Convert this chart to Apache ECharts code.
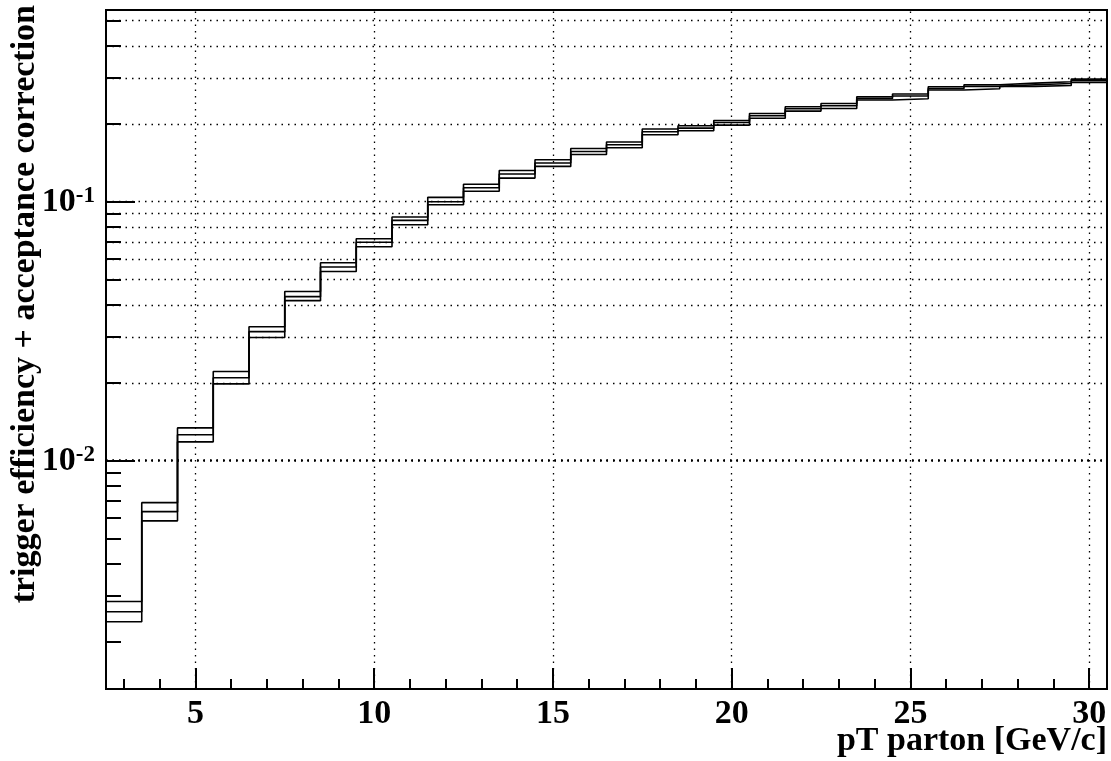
<!DOCTYPE html>
<html>
<head>
<meta charset="utf-8">
<script src="https://cdn.jsdelivr.net/npm/echarts@6/dist/echarts.min.js"></script>
<style>
html,body{margin:0;padding:0;background:#fff;}
#chart{width:1111px;height:761px;}
</style>
</head>
<body>
<div id="chart"></div>
<script>
// ---- data ----
const binCenters = [3,4,5,6,7,8,9,10,11,12,13,14,15,16,17,18,19,20,21,22,23,24,25,26,27,28,29,30];
const binHalfWidth = 0.5;
const effCentral = [0.00261,0.00636,0.01259,0.0209,0.0315,0.0430,0.0560,0.0698,0.0847,0.1000,0.1133,0.1280,0.1411,0.1564,0.1660,0.1863,0.1925,0.2023,0.2148,0.2286,0.2348,0.2506,0.2560,0.2738,0.2788,0.2830,0.2862,0.2931];
const effUpper   = [0.00286,0.00689,0.01339,0.0221,0.0329,0.0450,0.0581,0.0720,0.0873,0.1040,0.1168,0.1321,0.1453,0.1606,0.1700,0.1909,0.1966,0.2060,0.2190,0.2327,0.2396,0.2544,0.2605,0.2780,0.2830,0.2872,0.2905,0.2976];
const effLower   = [0.00239,0.00586,0.01183,0.0198,0.0299,0.0415,0.0538,0.0670,0.0815,0.0974,0.1098,0.1234,0.1369,0.1522,0.1616,0.1814,0.1879,0.1977,0.2100,0.2239,0.2292,0.2470,0.2499,0.2699,0.2731,0.2788,0.2812,0.2887];
const xRange = [2.5, 30.5];
const yRange = [0.001314, 0.55];
const xMajorTicks = [5,10,15,20,25,30];
const xMinorTicks = [3,4,5,6,7,8,9,10,11,12,13,14,15,16,17,18,19,20,21,22,23,24,25,26,27,28,29,30];
const yMajorTicks = [0.01, 0.1];
const yMinorTicks = [0.002,0.003,0.004,0.005,0.006,0.007,0.008,0.009,0.02,0.03,0.04,0.05,0.06,0.07,0.08,0.09,0.2,0.3,0.4,0.5];
const xTitle = 'pT parton [GeV/c]';
const yTitle = 'trigger efficiency + acceptance correction';

const FONT = '"Liberation Serif", "Times New Roman", serif';

function histSteps(vals){
  const pts = binCenters.map((c,i)=>[c - binHalfWidth, vals[i]]);
  const n = binCenters.length - 1;
  pts.push([binCenters[n] + binHalfWidth, vals[n]]);
  return pts;
}

const gridLineStyle = {color:'#000', width:1.3, type:[1.5,5]};
const markData = []
  .concat(yMajorTicks.concat(yMinorTicks).map(v=>({yAxis:v})))
  .concat(xMajorTicks.map(v=>({xAxis:v})));

function stepSeries(name, vals, withGrid){
  const s = {
    name: name, type:'line', step:'end', data: histSteps(vals),
    xAxisIndex:0, yAxisIndex:0,
    symbol:'none', z:5,
    lineStyle:{color:'#000', width:1.6},
    animation:false
  };
  if (withGrid){
    s.markLine = {
      silent:true, symbol:['none','none'], label:{show:false},
      lineStyle: gridLineStyle, animation:false, z:1,
      emphasis:{disabled:true},
      data: markData
    };
  }
  return s;
}

const chart = echarts.init(document.getElementById('chart'), null, {renderer:'canvas'});
const tickLabelStyle = {fontFamily:FONT, fontWeight:'bold', fontSize:34, color:'#000'};

chart.setOption({
  animation:false,
  backgroundColor:'#fff',
  grid:{left:106, right:4, top:10, bottom:72, show:true, borderColor:'#000', borderWidth:2, backgroundColor:'transparent'},
  xAxis:[
    {type:'value', min:xRange[0], max:xRange[1], position:'bottom',
     axisLine:{show:true, onZero:false, lineStyle:{color:'#000', width:2}},
     axisTick:{show:true, inside:true, length:10, customValues:xMinorTicks, lineStyle:{color:'#000', width:2}},
     axisLabel:{show:true, customValues:xMajorTicks, margin:8, lineHeight:34, ...tickLabelStyle},
     splitLine:{show:false}},
    {type:'value', min:xRange[0], max:xRange[1], position:'bottom', gridIndex:0,
     axisLine:{show:false},
     axisTick:{show:true, inside:true, length:21, customValues:xMajorTicks, lineStyle:{color:'#000', width:2}},
     axisLabel:{show:false},
     splitLine:{show:false}}
  ],
  yAxis:[
    {type:'log', logBase:10, min:yRange[0], max:yRange[1], position:'left',
     axisLine:{show:true, onZero:false, lineStyle:{color:'#000', width:2}},
     axisTick:{show:true, inside:true, length:15, customValues:yMinorTicks, lineStyle:{color:'#000', width:2}},
     axisLabel:{show:true, customValues:yMajorTicks, margin:11,
       formatter: v => '{b|10}{s|' + Math.round(Math.log10(v)) + '}',
       rich:{
         b:{fontFamily:FONT, fontWeight:'bold', fontSize:34, lineHeight:34, color:'#000'},
         s:{fontFamily:FONT, fontWeight:'bold', fontSize:23, lineHeight:22, verticalAlign:'top', color:'#000'}
       }},
     splitLine:{show:false}, minorTick:{show:false}},
    {type:'log', logBase:10, min:yRange[0], max:yRange[1], position:'left', gridIndex:0,
     axisLine:{show:false},
     axisTick:{show:true, inside:true, length:29, customValues:yMajorTicks, lineStyle:{color:'#000', width:2}},
     axisLabel:{show:false},
     splitLine:{show:false}}
  ],
  series:[
    stepSeries('lower', effLower, true),
    stepSeries('central', effCentral, false),
    stepSeries('upper', effUpper, false)
  ],
  graphic:[
    {type:'text', x:25, y:5, rotation:Math.PI/2, z:10,
     style:{text:yTitle, font:'bold 34px ' + FONT, fill:'#000', align:'right', verticalAlign:'middle', textAlign:'right', textVerticalAlign:'middle'}},
    {type:'text', x:1107, y:741, z:10,
     style:{text:xTitle, font:'bold 34px ' + FONT, fill:'#000', align:'right', verticalAlign:'middle', textAlign:'right', textVerticalAlign:'middle'}}
  ]
});
</script>
</body>
</html>
